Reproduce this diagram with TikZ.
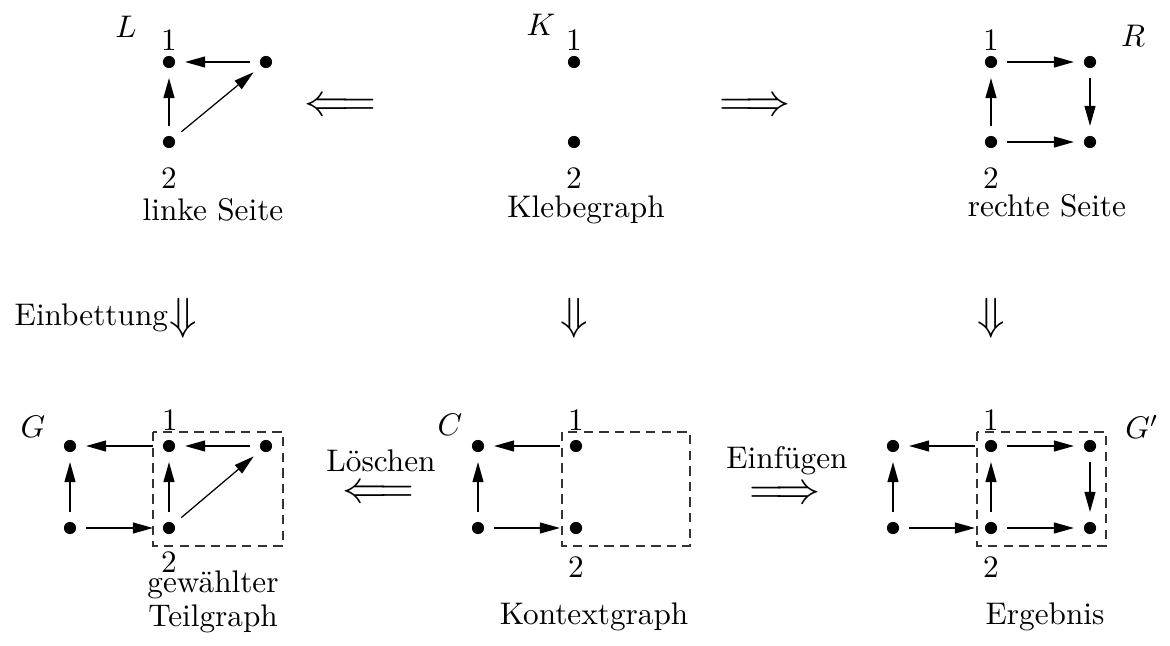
\documentclass[tikz,border=0pt]{standalone}
\usetikzlibrary{arrows.meta}

\tikzset{
	vtx/.style = {circle, fill, inner sep = 0pt, minimum size = 3.9pt, outer sep = 3.2pt},
	edge/.style = {-{Triangle[length = 6.4pt, width = 3.5pt]}},
	lbl/.style = {inner sep = 0pt},
	glue/.style = {draw, black!80, dash pattern = on 3pt off 2pt},
	rule/.style = {inner sep = 0pt, font = \Large}
}

\begin{document}
\begin{tikzpicture}[x = 0.32pt, y = -0.32pt]
	%	frame
	\useasboundingbox (0, 0) rectangle (1170, 646);
	
	%	linke Seite L
	\node[vtx] (L1) at (169, 62) {};
	\node[vtx] (L2) at (169, 142) {};
	\node[vtx] (L3) at (266, 62) {};
	\node[lbl] at (169, 40) {1};
	\node[lbl] at (169, 178) {2};
	\node[lbl] at (126, 27) {$L$};
	\node[lbl] at (213, 210) {linke Seite};
	\draw[edge] (L2) -- (L1);
	\draw[edge] (L3) -- (L1);
	\draw[edge] (L2) -- (L3);
	
	%	Klebegraph K
	\node[vtx] (K1) at (574, 62) {};
	\node[vtx] (K2) at (574, 142) {};
	\node[lbl] at (574, 40) {1};
	\node[lbl] at (574, 178) {2};
	\node[lbl] at (541, 25) {$K$};
	\node[lbl] at (586, 210) {Klebegraph};
	
	%	rechte Seite R
	\node[vtx] (R1) at (991, 62) {};
	\node[vtx] (R2) at (991, 142) {};
	\node[vtx] (R3) at (1090, 62) {};
	\node[vtx] (R4) at (1090, 142) {};
	\node[lbl] at (991, 40) {1};
	\node[lbl] at (991, 178) {2};
	\node[lbl] at (1133, 36) {$R$};
	\node[lbl] at (1047, 206) {rechte Seite};
	\draw[edge] (R2) -- (R1);
	\draw[edge] (R1) -- (R3);
	\draw[edge] (R3) -- (R4);
	\draw[edge] (R2) -- (R4);
	
	%	Regelpfeile oben
	\node[rule] (lk) at (340, 107) {$\Longleftarrow$};
	\node[rule] (kr) at (755, 107) {$\Longrightarrow$};
	
	%	Pfeile nach unten
	\node[rule] (dl) at (183, 318) {$\Downarrow$};
	\node[rule] (dk) at (574, 318) {$\Downarrow$};
	\node[rule] (dr) at (991, 318) {$\Downarrow$};
	\node[lbl, anchor = east] (emb) at (dl.west) {Einbettung};
	
	%	Graph G
	\node[vtx] (Ga) at (70, 446) {};
	\node[vtx] (Gb) at (70, 528) {};
	\node[vtx] (G1) at (169, 446) {};
	\node[vtx] (G2) at (169, 528) {};
	\node[vtx] (G3) at (266, 446) {};
	\draw[glue] (153, 432) rectangle (283, 546);
	\node[lbl] at (170, 420) {1};
	\node[lbl] at (169, 562) {2};
	\node[lbl] at (33, 427) {$G$};
	\node[lbl] at (213, 585) {gew\"ahlter};
	\node[lbl] at (213, 619) {Teilgraph};
	\draw[edge] (Gb) -- (Ga);
	\draw[edge] (G1) -- (Ga);
	\draw[edge] (Gb) -- (G2);
	\draw[edge] (G2) -- (G1);
	\draw[edge] (G2) -- (G3);
	\draw[edge] (G3) -- (G1);
	
	%	Kontextgraph C
	\node[vtx] (Ca) at (478, 446) {};
	\node[vtx] (Cb) at (478, 528) {};
	\node[vtx] (C1) at (576, 446) {};
	\node[vtx] (C2) at (576, 528) {};
	\draw[glue] (562, 432) rectangle (690, 546);
	\node[lbl] at (576, 420) {1};
	\node[lbl] at (576, 567) {2};
	\node[lbl] at (450, 425) {$C$};
	\node[lbl] at (594, 617) {Kontextgraph};
	\draw[edge] (Cb) -- (Ca);
	\draw[edge] (C1) -- (Ca);
	\draw[edge] (Cb) -- (C2);
	
	%	Ergebnis G'
	\node[vtx] (Ha) at (893, 446) {};
	\node[vtx] (Hb) at (893, 528) {};
	\node[vtx] (H1) at (991, 446) {};
	\node[vtx] (H2) at (991, 528) {};
	\node[vtx] (H3) at (1090, 446) {};
	\node[vtx] (H4) at (1090, 528) {};
	\draw[glue] (977, 432) rectangle (1106, 546);
	\node[lbl] at (991, 420) {1};
	\node[lbl] at (991, 567) {2};
	\node[lbl] at (1142, 427) {$G'$};
	\node[lbl] at (1045, 617) {Ergebnis};
	\draw[edge] (Hb) -- (Ha);
	\draw[edge] (H1) -- (Ha);
	\draw[edge] (Hb) -- (H2);
	\draw[edge] (H2) -- (H1);
	\draw[edge] (H1) -- (H3);
	\draw[edge] (H3) -- (H4);
	\draw[edge] (H2) -- (H4);
	
	%	Regelpfeile unten
	\node[rule] (gc) at (378, 494) {$\Longleftarrow$};
	\node[lbl] (del) at (381, 461) {L\"oschen};
	\node[rule] (cg) at (785, 495) {$\Longrightarrow$};
	\node[lbl] (ins) at (787, 461) {Einf\"ugen};
\end{tikzpicture}
\end{document}
